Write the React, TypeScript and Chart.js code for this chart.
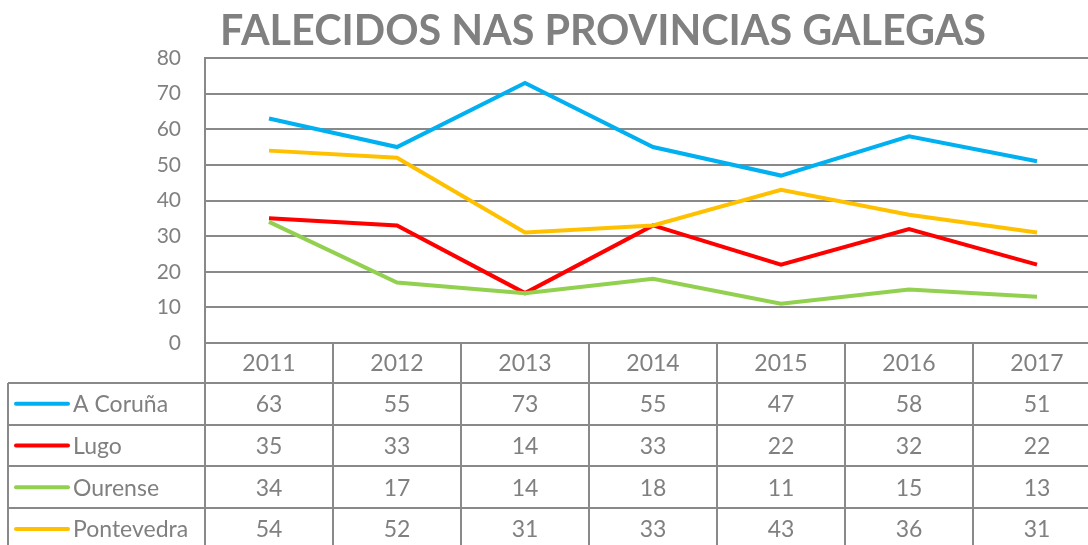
import React, { useEffect, useRef } from "react";
import { Chart, registerables } from "chart.js";

Chart.register(...registerables);

const years = ["2011", "2012", "2013", "2014", "2015", "2016", "2017"];
const aCoruna = [63, 55, 73, 55, 47, 58, 51];
const lugo = [35, 33, 14, 33, 22, 32, 22];
const ourense = [34, 17, 14, 18, 11, 15, 13];
const pontevedra = [54, 52, 31, 33, 43, 36, 31];
const seriesNames = ["A Coruña", "Lugo", "Ourense", "Pontevedra"];
const seriesValues = [aCoruna, lugo, ourense, pontevedra];
const seriesColors = ["#00B0F0", "#FF0000", "#92D050", "#FFC000"];
const titleText = "FALECIDOS NAS PROVINCIAS GALEGAS";

const GRID = "#898989";
const TEXT = "#808080";
const FONT = "Lato, 'Open Sans', sans-serif";

const tablePlugin = {
  id: "dataTableAndTitle",
  afterDraw(chart: any) {
    const ctx = chart.ctx as CanvasRenderingContext2D;
    const area = chart.chartArea;
    const xs = chart.scales.x;
    const n = years.length;
    const colW = (area.right - area.left) / n;
    const headerTop = area.bottom;
    const headerH = 40;
    const rowH = 41.7;
    const legendLeft = 8;
    const bottom = chart.height;

    ctx.save();
    // Title
    ctx.fillStyle = TEXT;
    ctx.font = `bold 41.3px ${FONT}`;
    ctx.textAlign = "center";
    ctx.textBaseline = "alphabetic";
    ctx.fillText(titleText, 603, 45);

    ctx.strokeStyle = GRID;
    ctx.lineWidth = 2;
    // horizontal lines of table
    ctx.beginPath();
    ctx.moveTo(area.left, headerTop);
    ctx.lineTo(area.right, headerTop);
    for (let r = 0; r <= seriesNames.length; r++) {
      const y = Math.round(headerTop + headerH + r * rowH);
      ctx.moveTo(legendLeft, y);
      ctx.lineTo(area.right, y);
    }
    // vertical lines
    ctx.moveTo(legendLeft, headerTop + headerH);
    ctx.lineTo(legendLeft, bottom);
    for (let i = 0; i <= n; i++) {
      const x = Math.round(xs.getPixelForValue(i) - colW / 2);
      ctx.moveTo(x, headerTop);
      ctx.lineTo(x, bottom);
    }
    ctx.stroke();

    // header text
    ctx.fillStyle = TEXT;
    ctx.font = `23px ${FONT}`;
    ctx.textAlign = "center";
    ctx.textBaseline = "middle";
    years.forEach((yr, i) => {
      ctx.fillText(yr, xs.getPixelForValue(i), headerTop + headerH / 2 + 1);
    });
    // rows
    seriesNames.forEach((name, r) => {
      const cy = headerTop + headerH + r * rowH + rowH / 2 + 1;
      ctx.textAlign = "center";
      seriesValues[r].forEach((v, i) => {
        ctx.fillText(String(v), xs.getPixelForValue(i), cy);
      });
      ctx.strokeStyle = seriesColors[r];
      ctx.lineWidth = 4;
      ctx.lineCap = "round";
      ctx.beginPath();
      ctx.moveTo(16, cy - 1);
      ctx.lineTo(68, cy - 1);
      ctx.stroke();
      ctx.textAlign = "left";
      ctx.fillText(name, 73, cy);
    });
    ctx.restore();
  },
};

export default function App() {
  const ref = useRef<HTMLCanvasElement | null>(null);
  useEffect(() => {
    if (!ref.current) return;
    const chart = new Chart(ref.current, {
      type: "line",
      data: {
        labels: years,
        datasets: seriesNames.map((name, i) => ({
          label: name,
          data: seriesValues[i],
          borderColor: seriesColors[i],
          backgroundColor: seriesColors[i],
          borderWidth: 4,
          pointRadius: 0,
          tension: 0,
          fill: false,
          order: seriesNames.length - i,
        })),
      },
      options: {
        responsive: false,
        maintainAspectRatio: false,
        devicePixelRatio: 1,
        animation: false,
        layout: { padding: { top: 58, right: 9, bottom: 202, left: 0 } },
        plugins: {
          legend: { display: false },
          tooltip: { enabled: false },
          title: { display: false },
        },
        scales: {
          x: { type: "category", offset: true, display: false },
          y: {
            min: 0,
            max: 80,
            ticks: {
              stepSize: 10,
              color: TEXT,
              font: { family: FONT, size: 21 },
              padding: 24,
            },
            grid: { color: GRID, lineWidth: 2, drawTicks: false },
            border: { display: true, color: GRID, width: 2 },
            afterFit: (s: any) => {
              s.width = 205;
            },
          },
        },
      },
      plugins: [tablePlugin],
    });
    return () => chart.destroy();
  }, []);
  return (
    <div
      style={{
        position: "fixed",
        left: 0,
        top: 0,
        width: 1088,
        height: 545,
        overflow: "hidden",
        background: "#fff",
      }}
    >
      <canvas ref={ref} width={1110} height={545} style={{ display: "block" }} />
    </div>
  );
}
